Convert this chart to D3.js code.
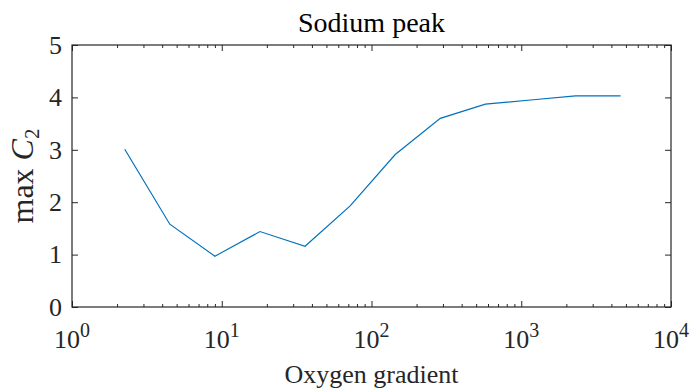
<!DOCTYPE html>
<html>
<head>
<meta charset="utf-8">
<script src="https://cdn.jsdelivr.net/npm/d3@7"></script>
<style>
  body { margin: 0; background: #fff; }
  svg { display: block; font-family: "Liberation Serif", "Times New Roman", serif; }
  .tick line { stroke: #262626; }
</style>
</head>
<body>
<div id="chart"></div>
<script>
// Oxygen gradient (x) vs max C2 (y)
const gradients = [2.25, 4.5, 9, 18, 36, 72, 144, 288, 576, 1152, 2304, 4608];
const maxC2 = [3.01, 1.58, 0.97, 1.44, 1.16, 1.93, 2.91, 3.60, 3.87, 3.95, 4.03, 4.03];
const xMajor = [1, 10, 100, 1000, 10000];
const xExponents = ["0", "1", "2", "3", "4"];
const xMinor = [2, 3, 4, 5, 6, 7, 8, 9, 20, 30, 40, 50, 60, 70, 80, 90,
  200, 300, 400, 500, 600, 700, 800, 900, 2000, 3000, 4000, 5000, 6000, 7000, 8000, 9000];
const yTicks = [0, 1, 2, 3, 4, 5];

function drawChart() {
    const W = 692, H = 392;
    const margin = { top: 45, right: 21, bottom: 85, left: 72 };
    const width = W - margin.left - margin.right;
    const height = H - margin.top - margin.bottom;
    const axisColor = "#262626";

    const root = d3.select("#chart").append("svg")
        .attr("width", W)
        .attr("height", H);

    const svg = root.append("g")
        .attr("transform", `translate(${margin.left},${margin.top})`);

    const x = d3.scaleLog().domain([1, 10000]).range([0, width]);
    const y = d3.scaleLinear().domain([0, 5]).range([height, 0]);

    // minor ticks bottom / top
    svg.append("g")
        .attr("transform", `translate(0,${height})`)
        .call(d3.axisBottom(x).tickValues(xMinor).tickSizeInner(-3).tickSizeOuter(0).tickFormat(""))
        .call(g => g.select(".domain").remove());
    svg.append("g")
        .call(d3.axisTop(x).tickValues(xMinor).tickSizeInner(-3).tickSizeOuter(0).tickFormat(""))
        .call(g => g.select(".domain").remove());

    // major ticks bottom / top
    svg.append("g")
        .attr("transform", `translate(0,${height})`)
        .call(d3.axisBottom(x).tickValues(xMajor).tickSizeInner(-6).tickSizeOuter(0).tickFormat(""))
        .call(g => g.select(".domain").remove());
    svg.append("g")
        .call(d3.axisTop(x).tickValues(xMajor).tickSizeInner(-6).tickSizeOuter(0).tickFormat(""))
        .call(g => g.select(".domain").remove());

    // x labels 10^n
    const xl = svg.append("g").selectAll("text")
        .data(xMajor)
        .enter()
        .append("text")
        .attr("x", d => x(d))
        .attr("y", height + 41)
        .attr("text-anchor", "middle")
        .style("font-size", "26px")
        .style("fill", axisColor);
    xl.append("tspan").text("10");
    xl.append("tspan")
        .attr("dy", -11)
        .style("font-size", "20px")
        .text((d, i) => xExponents[i]);

    // y ticks left / right
    svg.append("g")
        .call(d3.axisLeft(y).tickValues(yTicks).tickSizeInner(-6).tickSizeOuter(0)
            .tickPadding(10).tickFormat(d3.format("d")))
        .call(g => g.select(".domain").remove())
        .call(g => g.selectAll("text")
            .style("font-size", "26px")
            .style("font-family", "Liberation Serif, serif")
            .style("fill", axisColor));
    svg.append("g")
        .attr("transform", `translate(${width},0)`)
        .call(d3.axisRight(y).tickValues(yTicks).tickSizeInner(-6).tickSizeOuter(0).tickFormat(""))
        .call(g => g.select(".domain").remove());

    // frame
    svg.append("rect")
        .attr("x", 0)
        .attr("y", 0)
        .attr("width", width)
        .attr("height", height)
        .attr("fill", "none")
        .attr("stroke", axisColor)
        .attr("stroke-width", 1.2);

    // data line
    const pts = gradients.map((g, i) => [g, maxC2[i]]);
    svg.append("path")
        .datum(pts)
        .attr("fill", "none")
        .attr("stroke", "#0072BD")
        .attr("stroke-width", 1.2)
        .attr("d", d3.line().x(d => x(d[0])).y(d => y(d[1])));

    // Labels
    root.append("text")
        .attr("x", margin.left + width / 2)
        .attr("y", 32)
        .attr("text-anchor", "middle")
        .style("font-size", "28px")
        .style("fill", "#000")
        .text("Sodium peak");

    root.append("text")
        .attr("x", margin.left + width / 2)
        .attr("y", 383)
        .attr("text-anchor", "middle")
        .style("font-size", "26px")
        .style("fill", axisColor)
        .text("Oxygen gradient");

    const yl = root.append("text")
        .attr("transform", `translate(33,${margin.top + height / 2}) rotate(-90)`)
        .attr("text-anchor", "middle")
        .style("font-size", "32px")
        .style("fill", axisColor);
    yl.append("tspan").text("max ");
    yl.append("tspan").style("font-style", "italic").text("C");
    yl.append("tspan").attr("dy", 6).style("font-size", "21px").text("2");
}

drawChart();
</script>
</body>
</html>
